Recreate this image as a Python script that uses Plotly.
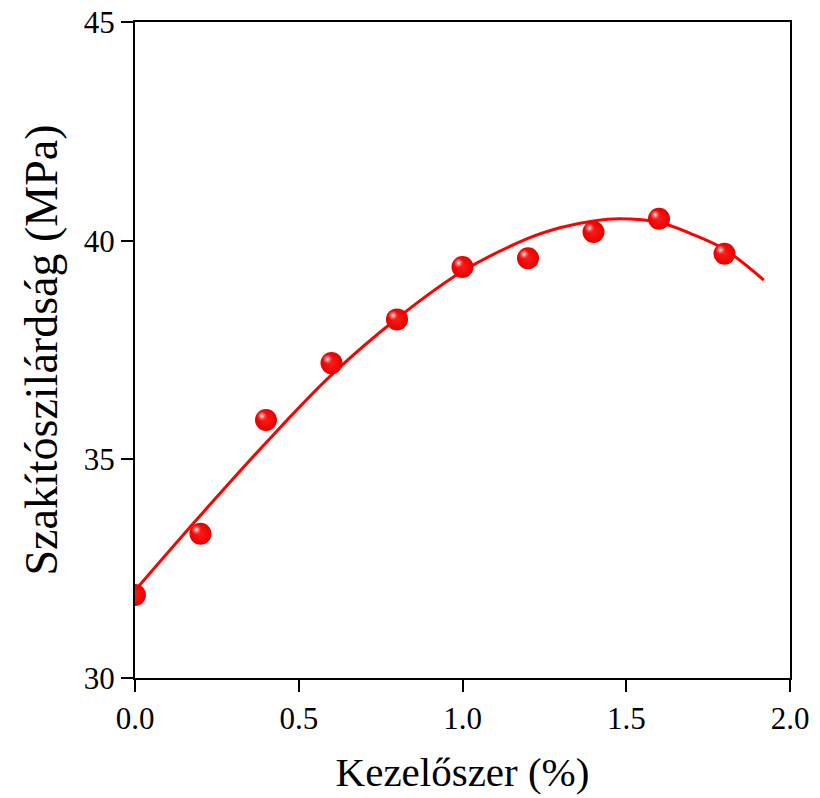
import plotly.graph_objects as go

# Measured data points
dose = [0.0, 0.2, 0.4, 0.6, 0.8, 1.0, 1.2, 1.4, 1.6, 1.8]
strength = [31.9, 33.3, 35.9, 37.2, 38.2, 39.4, 39.6, 40.2, 40.5, 39.7]

# Fitted curve
fit_x = [0.0, 0.2, 0.4, 0.6, 0.8, 1.0, 1.2, 1.3, 1.4, 1.48, 1.6, 1.7, 1.8, 1.92]
fit_y = [32.0, 33.72, 35.38, 36.93, 38.22, 39.3, 40.05, 40.3, 40.45, 40.5, 40.42, 40.15, 39.8, 39.1]

x_ticks = [0.0, 0.5, 1.0, 1.5, 2.0]
x_tick_text = ["0.0", "0.5", "1.0", "1.5", "2.0"]
y_ticks = [30, 35, 40, 45]
y_tick_text = ["30", "35", "40", "45"]

FONT = "Liberation Serif, Times New Roman, serif"
RED = "#ff0000"

fig = go.Figure()

fig.add_trace(go.Scatter(
    x=fit_x, y=fit_y, mode="lines",
    line=dict(color=RED, width=3, shape="spline", smoothing=1.0),
    showlegend=False, hoverinfo="skip"))

fig.add_trace(go.Scatter(
    x=dose, y=strength, mode="markers",
    marker=dict(size=22, color="#e60000",
                gradient=dict(type="radial", color="#ff1a1a"),
                line=dict(width=0)),
    showlegend=False))

# highlight on spheres (overlay axes shifted by a few pixels)
fig.add_trace(go.Scatter(
    x=dose, y=strength, mode="markers", xaxis="x2", yaxis="y2",
    marker=dict(size=11, color="rgba(255,60,60,0)",
                gradient=dict(type="radial", color="rgba(255,255,255,1)"),
                line=dict(width=0)),
    showlegend=False, hoverinfo="skip"))

# page body adds an 8px offset; compensate so the plot area sits at 135..790 x 22..678
L, T, R, B = 127, 14, 38, 128
plot_w = 820 - L - R
plot_h = 798 - T - B
dx = 4 * 2.0 / plot_w
dy = 4 * 15.0 / plot_h

axis_common = dict(
    showline=True, linecolor="black", linewidth=2, mirror=True,
    ticks="outside", ticklen=12, tickwidth=2, tickcolor="black",
    showgrid=False, zeroline=False, automargin=False,
    ticklabeloverflow="allow",
    tickfont=dict(family=FONT, size=31, color="black"),
)

fig.update_layout(
    width=820, height=798,
    margin=dict(l=L, r=R, t=T, b=B),
    paper_bgcolor="white", plot_bgcolor="white",
    xaxis=dict(range=[0, 2.0], tickvals=x_ticks, ticktext=x_tick_text,
               title=dict(text="Kezelőszer (%)", font=dict(family=FONT, size=41, color="black"),
                          standoff=22),
               ticklabelstandoff=0, **axis_common),
    yaxis=dict(range=[30, 45], tickvals=y_ticks, ticktext=y_tick_text,
               title=dict(text="Szakítószilárdság (MPa)", font=dict(family=FONT, size=46, color="black"),
                          standoff=12),
               ticklabelstandoff=0, **axis_common),
    xaxis2=dict(range=[0 + dx, 2.0 + dx], overlaying="x", visible=False, anchor="y2"),
    yaxis2=dict(range=[30 - dy, 45 - dy], overlaying="y", visible=False, anchor="x2"),
)

fig.write_html("out.html")
